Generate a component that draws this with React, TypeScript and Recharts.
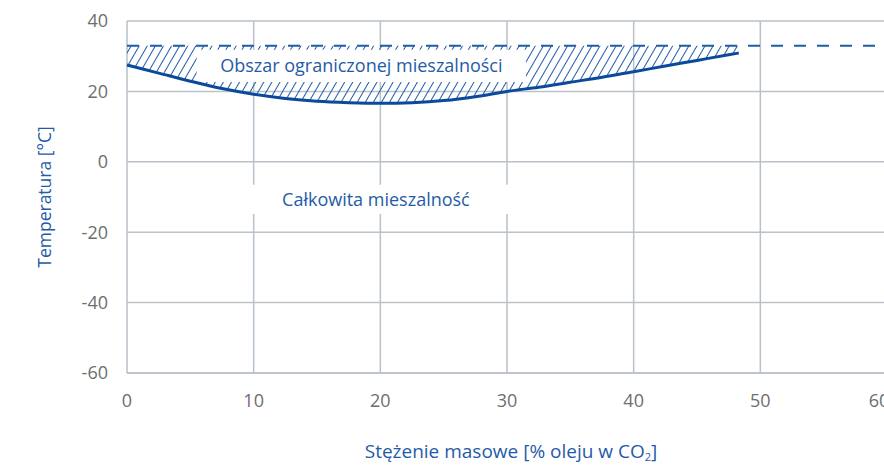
import React from 'react';
import {
  ComposedChart,
  Area,
  Line,
  XAxis,
  YAxis,
  CartesianGrid,
  ReferenceLine,
  ReferenceArea,
} from 'recharts';

// oil concentration in CO2 [%] and the miscibility boundary temperature [°C]
const concentration = [0, 2.5, 5, 7.5, 10, 12.5, 15, 17.5, 20, 22.5, 25, 27.5, 30, 32.5, 35, 37.5, 40, 42.5, 45, 47.5, 48.3];
const boundaryTemp = [27.5, 25.2, 22.9, 20.8, 19.2, 18.0, 17.2, 16.8, 16.6, 16.8, 17.4, 18.5, 20.0, 21.2, 22.6, 24.0, 25.6, 27.2, 28.8, 30.4, 30.9];
const upperLimit = 33;

const xTicks = [0, 10, 20, 30, 40, 50, 60];
const yTicks = [-60, -40, -20, 0, 20, 40];

const data = concentration.map((c, i) => ({
  c,
  t: boundaryTemp[i],
  band: [boundaryTemp[i], upperLimit],
}));

const BLUE = '#1f5ca8';
const DARK_BLUE = '#0b4a9b';
const GRID = '#bac1c9';
const TICK = '#6e6e6e';

const XTitle = (props: any) => {
  const vb = props.viewBox || {};
  const cx = vb.x + vb.width / 2 + 4;
  return (
    <text x={cx} y={458} textAnchor="middle" fill={BLUE} fontSize={19}>
      <tspan>Stężenie masowe [% oleju w CO</tspan>
      <tspan fontSize={11} dy={3}>2</tspan>
      <tspan dy={-3}>]</tspan>
    </text>
  );
};

// last label sits a bit left of its tick, as in the source figure
const XTick = (props: any) => {
  const { x, y, payload } = props;
  const shift = payload.value === 60 ? -8 : 0;
  return (
    <text x={x + shift} y={y} dy="0.71em" textAnchor="middle" fill={TICK} fontSize={18}>
      {payload.value}
    </text>
  );
};

export default function App() {
  return (
    <div style={{ position: 'absolute', left: 0, top: 0, width: 884, height: 465, overflow: 'hidden', background: '#fff' }}>
      <ComposedChart
        width={900}
        height={465}
        data={data}
        margin={{ top: 21, right: 13, left: 0, bottom: 0 }}
        style={{ fontFamily: '"Open Sans", sans-serif' }}
      >
        <defs>
          <pattern id="hatch" patternUnits="userSpaceOnUse" width={7} height={10} patternTransform="rotate(30)">
            <line x1={3.5} y1={0} x2={3.5} y2={10} stroke={BLUE} strokeWidth={1} />
          </pattern>
        </defs>
        <CartesianGrid stroke={GRID} strokeWidth={1.5} />
        <XAxis
          dataKey="c"
          type="number"
          domain={[0, 60]}
          ticks={xTicks}
          tickLine={false}
          tickSize={0}
          tickMargin={21}
          axisLine={{ stroke: GRID, strokeWidth: 1.5 }}
          tick={<XTick />}
          height={92}
          label={<XTitle />}
        />
        <YAxis
          type="number"
          domain={[-60, 40]}
          ticks={yTicks}
          tickLine={false}
          tickSize={0}
          tickMargin={19}
          axisLine={false}
          tick={{ fill: TICK, fontSize: 18 }}
          width={127}
          label={{
            value: 'Temperatura [°C]',
            angle: -90,
            position: 'insideLeft',
            offset: 45,
            fill: BLUE,
            fontSize: 17.5,
            style: { textAnchor: 'middle' },
          }}
        />
        <Area
          dataKey="band"
          type="monotone"
          stroke="none"
          fill="url(#hatch)"
          fillOpacity={1}
          isAnimationActive={false}
        />
        <Line
          dataKey="t"
          type="monotone"
          stroke={DARK_BLUE}
          strokeWidth={3}
          dot={false}
          isAnimationActive={false}
        />
        <ReferenceArea
          x1={5.5}
          x2={31.5}
          y1={22.7}
          y2={31.8}
          fill="#fff"
          fillOpacity={1}
          stroke="none"
          label={{ value: 'Obszar ograniczonej mieszalności', position: 'center', fill: BLUE, fontSize: 18 }}
        />
        <ReferenceArea
          x1={8.9}
          x2={30.4}
          y1={-14.8}
          y2={-6.5}
          fill="#fff"
          fillOpacity={1}
          stroke="none"
          label={{ value: 'Całkowita mieszalność', position: 'center', fill: BLUE, fontSize: 18 }}
        />
        <ReferenceLine y={upperLimit} stroke={BLUE} strokeWidth={2} strokeDasharray="12 11" />
      </ComposedChart>
    </div>
  );
}
